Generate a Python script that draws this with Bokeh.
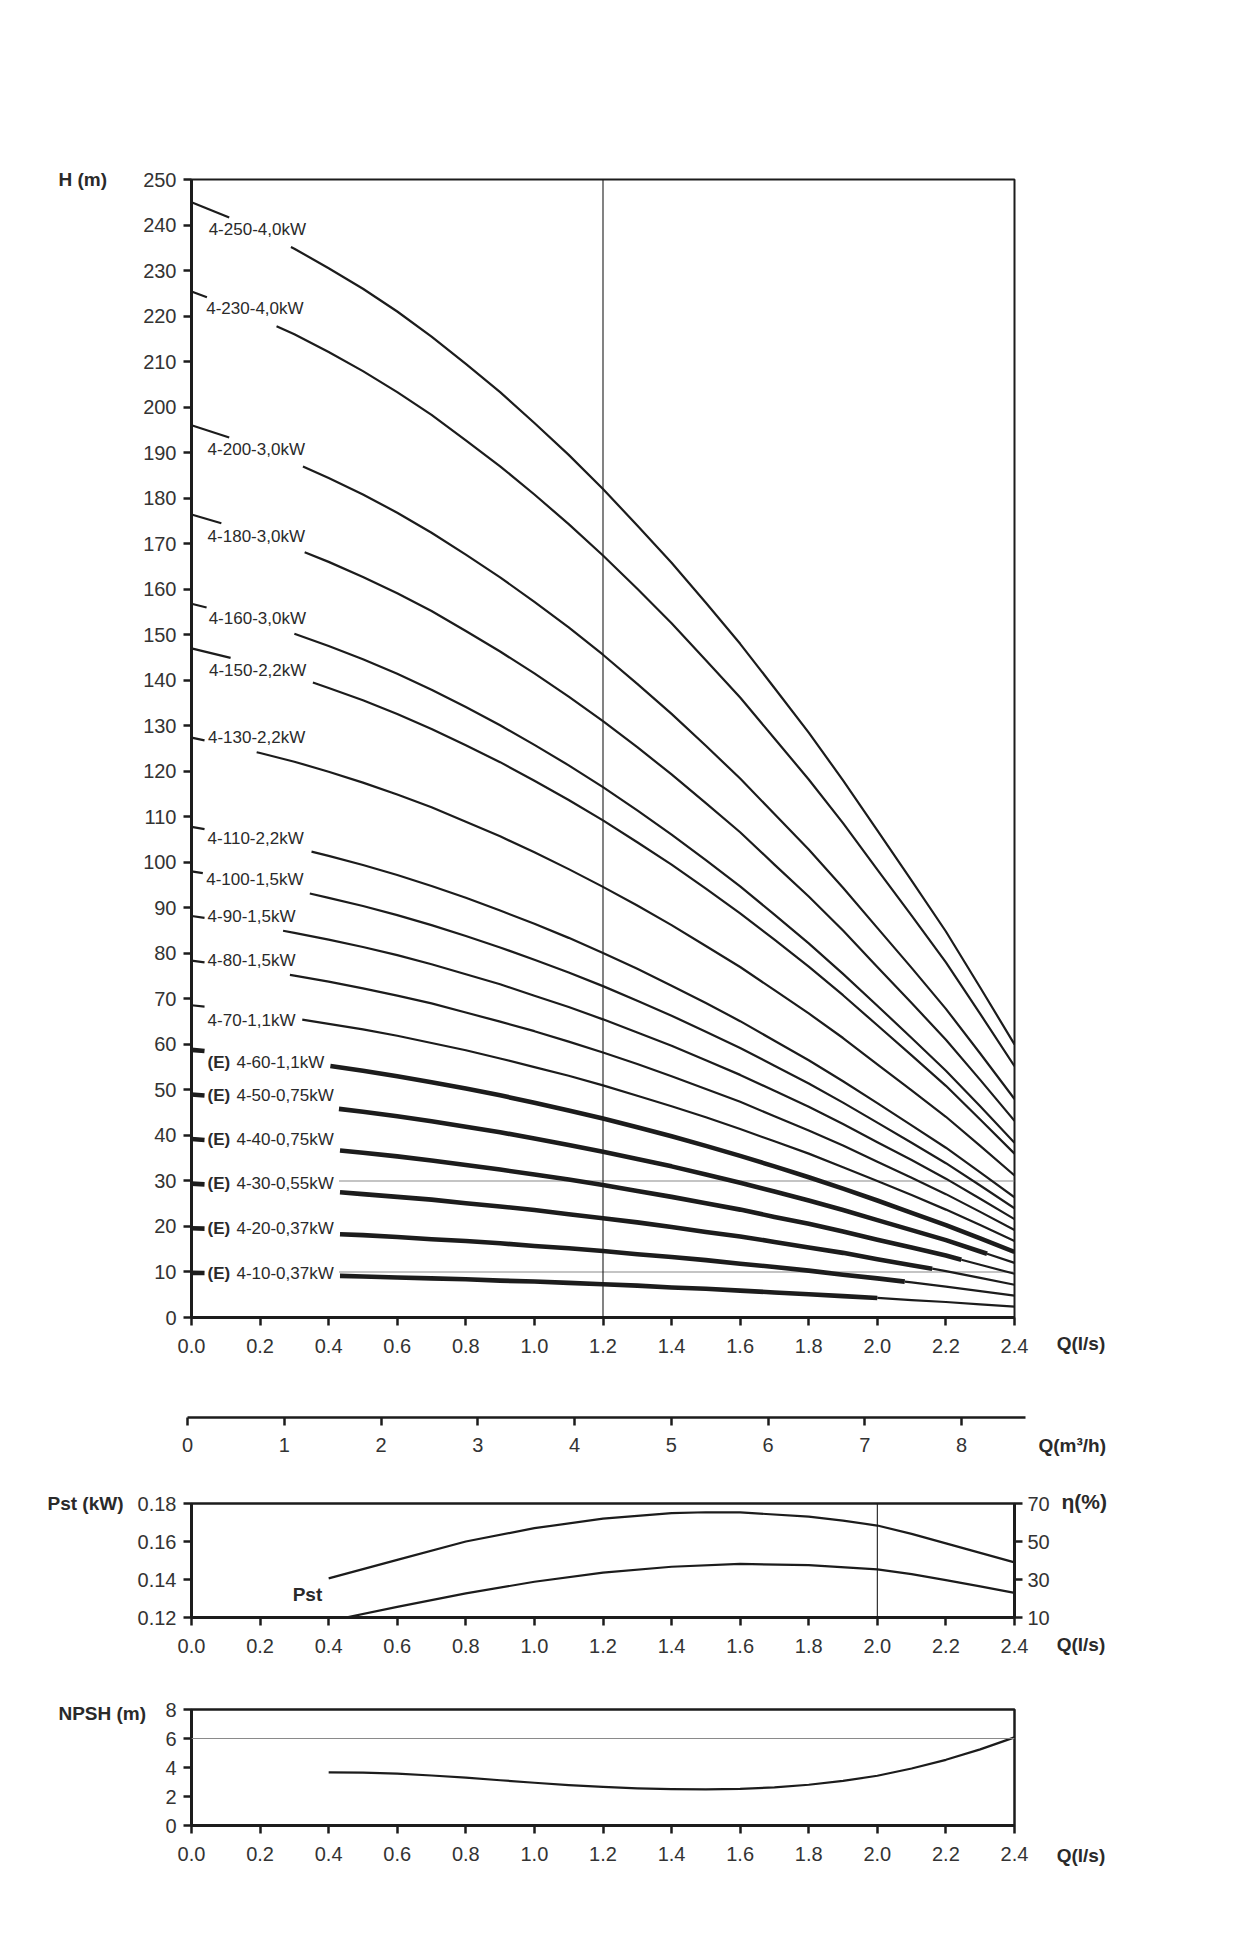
import numpy as np
from bokeh.plotting import figure
from bokeh.models import Label, FixedTicker, PrintfTickFormatter, Range1d, LinearAxis, Span
from bokeh.layouts import column, row
from bokeh.embed import file_html
from bokeh.resources import INLINE

# ---------------------------------------------------------------- data
Q_LS = [0.0, 0.1, 0.2, 0.3, 0.4, 0.5, 0.6, 0.7, 0.8, 0.9, 1.0, 1.1, 1.2,
        1.3, 1.4, 1.5, 1.6, 1.7, 1.8, 1.9, 2.0, 2.1, 2.2, 2.3, 2.4]

H_250 = [245.0, 242.0, 238.5, 234.8, 230.5, 226.0, 221.0, 215.5, 209.5, 203.3, 196.5, 189.5, 182.0,
         174.0, 165.8, 157.0, 148.0, 138.3, 128.5, 118.0, 107.0, 96.0, 84.8, 72.5, 60.0]
H_230 = [225.4, 222.6, 219.4, 216.0, 212.1, 207.9, 203.3, 198.3, 192.7, 187.0, 180.8, 174.3, 167.4,
         160.1, 152.5, 144.4, 136.2, 127.2, 118.2, 108.6, 98.4, 88.3, 78.0, 66.7, 55.2]
H_200 = [196.0, 193.6, 190.8, 187.8, 184.4, 180.8, 176.8, 172.4, 167.6, 162.6, 157.2, 151.6, 145.6,
         139.2, 132.6, 125.6, 118.4, 110.6, 102.8, 94.4, 85.6, 76.8, 67.8, 58.0, 48.0]
H_180 = [176.4, 174.2, 171.7, 169.0, 166.0, 162.7, 159.1, 155.2, 150.8, 146.3, 141.5, 136.4, 131.0,
         125.3, 119.3, 113.0, 106.6, 99.5, 92.5, 85.0, 77.0, 69.1, 61.0, 52.2, 43.2]
H_160 = [156.8, 154.9, 152.6, 150.2, 147.5, 144.6, 141.4, 137.9, 134.1, 130.1, 125.8, 121.3, 116.5,
         111.4, 106.1, 100.5, 94.7, 88.5, 82.2, 75.5, 68.5, 61.4, 54.2, 46.4, 38.4]
H_150 = [147.0, 145.2, 143.1, 140.9, 138.3, 135.6, 132.6, 129.3, 125.7, 122.0, 117.9, 113.7, 109.2,
         104.4, 99.5, 94.2, 88.8, 83.0, 77.1, 70.8, 64.2, 57.6, 50.9, 43.5, 36.0]
H_130 = [127.4, 125.8, 124.0, 122.1, 119.9, 117.5, 114.9, 112.1, 108.9, 105.7, 102.2, 98.5, 94.6,
         90.5, 86.2, 81.6, 77.0, 71.9, 66.8, 61.4, 55.6, 49.9, 44.1, 37.7, 31.2]
H_110 = [107.8, 106.5, 104.9, 103.3, 101.4, 99.4, 97.2, 94.8, 92.2, 89.4, 86.5, 83.4, 80.1,
         76.6, 72.9, 69.1, 65.1, 60.8, 56.5, 51.9, 47.1, 42.2, 37.3, 31.9, 26.4]
H_100 = [98.0, 96.8, 95.4, 93.9, 92.2, 90.4, 88.4, 86.2, 83.8, 81.3, 78.6, 75.8, 72.8,
         69.6, 66.3, 62.8, 59.2, 55.3, 51.4, 47.2, 42.8, 38.4, 33.9, 29.0, 24.0]
H_90 = [88.2, 87.1, 85.9, 84.5, 83.0, 81.4, 79.6, 77.6, 75.4, 73.2, 70.7, 68.2, 65.5,
        62.6, 59.7, 56.5, 53.3, 49.8, 46.3, 42.5, 38.5, 34.6, 30.5, 26.1, 21.6]
H_80 = [78.4, 77.4, 76.3, 75.1, 73.8, 72.3, 70.7, 69.0, 67.0, 65.0, 62.9, 60.6, 58.2,
        55.7, 53.0, 50.2, 47.4, 44.2, 41.1, 37.8, 34.2, 30.7, 27.1, 23.2, 19.2]
H_70 = [68.6, 67.8, 66.8, 65.7, 64.5, 63.3, 61.9, 60.3, 58.7, 56.9, 55.0, 53.1, 51.0,
        48.7, 46.4, 44.0, 41.4, 38.7, 36.0, 33.0, 30.0, 26.9, 23.7, 20.3, 16.8]
H_60 = [58.8, 58.1, 57.2, 56.3, 55.3, 54.2, 53.0, 51.7, 50.3, 48.8, 47.2, 45.5, 43.7,
        41.8, 39.8, 37.7, 35.5, 33.2, 30.8, 28.3, 25.7, 23.0, 20.3, 17.4, 14.4]
H_50 = [49.0, 48.4, 47.7, 47.0, 46.1, 45.2, 44.2, 43.1, 41.9, 40.7, 39.3, 37.9, 36.4,
        34.8, 33.2, 31.4, 29.6, 27.7, 25.7, 23.6, 21.4, 19.2, 17.0, 14.5, 12.0]
H_40 = [39.2, 38.7, 38.2, 37.6, 36.9, 36.2, 35.4, 34.5, 33.5, 32.5, 31.4, 30.3, 29.1,
        27.8, 26.5, 25.1, 23.7, 22.1, 20.6, 18.9, 17.1, 15.4, 13.6, 11.6, 9.6]
H_30 = [29.4, 29.0, 28.6, 28.2, 27.7, 27.1, 26.5, 25.9, 25.1, 24.4, 23.6, 22.7, 21.8,
        20.9, 19.9, 18.8, 17.8, 16.6, 15.4, 14.2, 12.8, 11.5, 10.2, 8.7, 7.2]
H_20 = [19.6, 19.4, 19.1, 18.8, 18.4, 18.1, 17.7, 17.2, 16.8, 16.3, 15.7, 15.2, 14.6,
        13.9, 13.3, 12.6, 11.8, 11.1, 10.3, 9.4, 8.6, 7.7, 6.8, 5.8, 4.8]
H_10 = [9.8, 9.7, 9.5, 9.4, 9.2, 9.0, 8.8, 8.6, 8.4, 8.1, 7.9, 7.6, 7.3,
        7.0, 6.6, 6.3, 5.9, 5.5, 5.1, 4.7, 4.3, 3.8, 3.4, 2.9, 2.4]

MODEL_NAMES = ["4-250-4,0kW", "4-230-4,0kW", "4-200-3,0kW", "4-180-3,0kW", "4-160-3,0kW",
               "4-150-2,2kW", "4-130-2,2kW", "4-110-2,2kW", "4-100-1,5kW", "4-90-1,5kW",
               "4-80-1,5kW", "4-70-1,1kW", "4-60-1,1kW", "4-50-0,75kW", "4-40-0,75kW",
               "4-30-0,55kW", "4-20-0,37kW", "4-10-0,37kW"]
MODEL_E = [False] * 12 + [True] * 6
HEADS = [H_250, H_230, H_200, H_180, H_160, H_150, H_130, H_110, H_100, H_90,
         H_80, H_70, H_60, H_50, H_40, H_30, H_20, H_10]

PST_Q = [0.45, 0.6, 0.8, 1.0, 1.2, 1.4, 1.6, 1.8, 2.0, 2.1, 2.2, 2.3, 2.4]
PST_KW = [0.1200, 0.1256, 0.1327, 0.1388, 0.1436, 0.1467, 0.1482, 0.1476, 0.1453,
          0.1428, 0.1397, 0.1364, 0.1330]
ETA_Q = [0.4, 0.6, 0.8, 1.0, 1.2, 1.4, 1.5, 1.6, 1.8, 1.9, 2.0, 2.1, 2.2, 2.3, 2.4]
ETA_PCT = [30.6, 40.3, 50.0, 57.0, 62.0, 64.9, 65.4, 65.3, 63.1, 61.0, 58.4, 54.0, 49.0, 44.0, 39.0]
NPSH_Q = [0.4, 0.5, 0.6, 0.7, 0.8, 0.9, 1.0, 1.1, 1.2, 1.3, 1.4, 1.5, 1.6, 1.7, 1.8,
          1.9, 2.0, 2.1, 2.2, 2.3, 2.4]
NPSH_M = [3.66, 3.64, 3.58, 3.45, 3.30, 3.12, 2.95, 2.79, 2.66, 2.56, 2.51, 2.49, 2.52, 2.63, 2.81,
          3.08, 3.43, 3.93, 4.53, 5.25, 6.08]

Q_TICKS = [0.0, 0.2, 0.4, 0.6, 0.8, 1.0, 1.2, 1.4, 1.6, 1.8, 2.0, 2.2, 2.4]
H_TICKS = [0, 10, 20, 30, 40, 50, 60, 70, 80, 90, 100, 110, 120, 130, 140, 150, 160,
           170, 180, 190, 200, 210, 220, 230, 240, 250]
M3H_TICKS = [0, 1, 2, 3, 4, 5, 6, 7, 8]
PST_TICKS = [0.12, 0.14, 0.16, 0.18]
ETA_TICKS = [10, 30, 50, 70]
NPSH_TICKS = [0, 2, 4, 6, 8]

# ---------------------------------------------------------------- layout / style
FONT = "Liberation Sans"
INK = "#1c1c1c"
TXT = "#2a2a2a"
THIN = 2.2
THICK = 4.6
TICK_FONT = "20px"
TITLE_FONT = "19px"

LABEL_XY = [(0.050, 239.0), (0.043, 221.6), (0.047, 190.6), (0.047, 171.6), (0.050, 153.6),
            (0.051, 142.2), (0.048, 127.4), (0.047, 105.3), (0.043, 96.3), (0.047, 88.1),
            (0.047, 78.5), (0.047, 65.2), (0.047, 56.0), (0.047, 48.8), (0.047, 39.2),
            (0.047, 29.4), (0.047, 19.6), (0.047, 9.6)]
STUB_END = [0.11, 0.045, 0.11, 0.087, 0.044, 0.114, 0.038, 0.038, 0.033, 0.038,
            0.038, 0.038, 0.038, 0.038, 0.038, 0.038, 0.038, 0.038]
MAIN_START = [0.29, 0.248, 0.325, 0.33, 0.30, 0.354, 0.19, 0.35, 0.345, 0.267,
              0.287, 0.323, 0.405, 0.43, 0.433, 0.433, 0.433, 0.433]
THICK_END = [None] * 12 + [2.40, 2.32, 2.245, 2.16, 2.08, 2.0]
E_TEXT_X = 0.131
GRID_H_START = 0.43

# page geometry (px): frames of each panel and the rows that hold them
MAIN_FRAME = (191, 1014, 179, 1317)     # left, right, top, bottom
M3_FRAME = (187, 1025, 1397, 1417)
PST_FRAME = (191, 1014, 1503, 1617)
NPSH_FRAME = (191, 1014, 1709, 1825)
MAIN_ROW = (0, 1379)
M3_ROW = (1379, 1467)
PST_ROW = (1467, 1672)
NPSH_ROW = (1672, 1880)


def style_axis(ax, ticks, fmt, standoff):
    ax.ticker = FixedTicker(ticks=ticks)
    ax.formatter = PrintfTickFormatter(format=fmt)
    ax.axis_line_width = 3
    ax.axis_line_color = INK
    ax.major_tick_line_width = 2.5
    ax.major_tick_line_color = INK
    ax.major_tick_out = 8
    ax.major_tick_in = 0
    ax.minor_tick_line_color = None
    ax.major_label_text_font = FONT
    ax.major_label_text_font_size = TICK_FONT
    ax.major_label_text_color = "#333333"
    ax.major_label_standoff = standoff


def panel_fig(x0, x1, frame, rowspan, xr, yr):
    fl, fr, ft, fb = frame
    p = figure(width=x1 - x0, height=rowspan[1] - rowspan[0],
               x_range=Range1d(*xr), y_range=Range1d(*yr),
               output_backend="svg", toolbar_location=None, frame_align=False,
               min_border_left=fl - x0, min_border_right=x1 - fr,
               min_border_top=ft - rowspan[0], min_border_bottom=rowspan[1] - fb)
    p.xgrid.visible = False
    p.ygrid.visible = False
    p.outline_line_color = INK
    p.outline_line_width = 2
    p.background_fill_color = "white"
    p.border_fill_color = "white"
    return p


def side_fig(x0, x1, frame, rowspan, xr, yr):
    """Text-only figure beside a panel, sharing that panel's data coordinates."""
    fl, fr, ft, fb = frame
    kx = (xr[1] - xr[0]) / (fr - fl)
    ky = (yr[1] - yr[0]) / (fb - ft)
    sx = (xr[0] + (x0 - fl) * kx, xr[0] + (x1 - fl) * kx)
    sy = (yr[0] + (fb - rowspan[1]) * ky, yr[0] + (fb - rowspan[0]) * ky)
    p = figure(width=x1 - x0, height=rowspan[1] - rowspan[0],
               x_range=Range1d(*sx), y_range=Range1d(*sy),
               output_backend="svg", toolbar_location=None, frame_align=False,
               x_axis_location=None, y_axis_location=None,
               min_border_left=0, min_border_right=0, min_border_top=0, min_border_bottom=0)
    p.grid.visible = False
    p.outline_line_color = None
    p.background_fill_color = "white"
    p.border_fill_color = "white"
    return p


def add_text(p, x, y, text, size="17px", bold=False, align="left"):
    p.add_layout(Label(x=x, y=y, text=text, text_font=FONT, text_font_size=size,
                       text_font_style="bold" if bold else "normal", text_color=TXT,
                       text_align=align, text_baseline="middle"))


def h_at(h, q):
    return float(np.interp(q, Q_LS, h))


# ---------------------------------------------------------------- main H-Q chart
XR = (0, 2.4)
main = panel_fig(118, 1044, MAIN_FRAME, MAIN_ROW, XR, (0, 250))
style_axis(main.xaxis[0], Q_TICKS, "%.1f", 13)
style_axis(main.yaxis[0], H_TICKS, "%d", 7)

main.add_layout(Span(location=1.2, dimension="height", line_color=INK, line_width=1.1))
main.segment(x0=[GRID_H_START, GRID_H_START], y0=[30, 10], x1=[2.4, 2.4], y1=[30, 10],
             line_color="#8a8a8a", line_width=1.1)

for i, h in enumerate(HEADS):
    e = MODEL_E[i]
    se = STUB_END[i]
    main.line([0.0, se], [h[0], h_at(h, se)], line_color=INK, line_width=THICK if e else THIN)
    ms = MAIN_START[i]
    qs = [ms] + [q for q in Q_LS if q > ms]
    hs = [h_at(h, ms)] + [v for q, v in zip(Q_LS, h) if q > ms]
    te = THICK_END[i]
    if te is None:
        main.line(qs, hs, line_color=INK, line_width=THIN, line_join="round")
    else:
        tq = [q for q in qs if q < te] + [te]
        th = [v for q, v in zip(qs, hs) if q < te] + [h_at(h, te)]
        main.line(tq, th, line_color=INK, line_width=THICK, line_join="round")
        if te < 2.4:
            rq = [te] + [q for q in qs if q > te]
            rh = [h_at(h, te)] + [v for q, v in zip(qs, hs) if q > te]
            main.line(rq, rh, line_color=INK, line_width=THIN, line_join="round")
    lx, ly = LABEL_XY[i]
    if e:
        add_text(main, lx, ly, "(E)", bold=True)
        add_text(main, E_TEXT_X, ly, MODEL_NAMES[i])
    else:
        add_text(main, lx, ly, MODEL_NAMES[i])

main_l = side_fig(0, 118, MAIN_FRAME, MAIN_ROW, XR, (0, 250))
add_text(main_l, -0.388, 250, "H (m)", size=TITLE_FONT, bold=True)
main_r = side_fig(1044, 1234, MAIN_FRAME, MAIN_ROW, XR, (0, 250))
add_text(main_r, 2.523, -5.8, "Q(l/s)", size=TITLE_FONT, bold=True)

# ---------------------------------------------------------------- m3/h scale
M3R = (0, 8.66)
m3 = panel_fig(0, 1036, M3_FRAME, M3_ROW, M3R, (0, 1))
m3.outline_line_color = None
m3.yaxis.visible = False
style_axis(m3.xaxis[0], M3H_TICKS, "%d", 12)
m3.xaxis[0].axis_line_width = 2.5
m3_r = side_fig(1036, 1234, M3_FRAME, M3_ROW, M3R, (0, 1))
add_text(m3_r, 8.794, -1.4, "Q(m³/h)", size=TITLE_FONT, bold=True)

# ---------------------------------------------------------------- Pst / eta panel
PR = (0.12, 0.18)
pst = panel_fig(128, 1052, PST_FRAME, PST_ROW, XR, PR)
pst.outline_line_width = 2.5
style_axis(pst.xaxis[0], Q_TICKS, "%.1f", 13)
style_axis(pst.yaxis[0], PST_TICKS, "%.2f", 7)
pst.extra_y_ranges = {"eta": Range1d(10, 70)}
eta_ax = LinearAxis(y_range_name="eta")
style_axis(eta_ax, ETA_TICKS, "%d", 5)
pst.add_layout(eta_ax, "right")
pst.add_layout(Span(location=2.0, dimension="height", line_color=INK, line_width=1.1))
pst.line(PST_Q, PST_KW, line_color=INK, line_width=THIN, line_join="round")
pst.line(ETA_Q, ETA_PCT, y_range_name="eta", line_color=INK, line_width=THIN, line_join="round")
add_text(pst, 0.295, 0.1321, "Pst", size=TITLE_FONT, bold=True)
pst_l = side_fig(0, 128, PST_FRAME, PST_ROW, XR, PR)
add_text(pst_l, -0.42, 0.18, "Pst (kW)", size=TITLE_FONT, bold=True)
pst_r = side_fig(1052, 1234, PST_FRAME, PST_ROW, XR, PR)
add_text(pst_r, 2.537, 0.181, "η(%)", size="21px", bold=True)
add_text(pst_r, 2.523, 0.1058, "Q(l/s)", size=TITLE_FONT, bold=True)

# ---------------------------------------------------------------- NPSH panel
NR = (0, 8)
npsh = panel_fig(152, 1052, NPSH_FRAME, NPSH_ROW, XR, NR)
npsh.outline_line_width = 2.5
style_axis(npsh.xaxis[0], Q_TICKS, "%.1f", 13)
style_axis(npsh.yaxis[0], NPSH_TICKS, "%d", 7)
npsh.add_layout(Span(location=6, dimension="width", line_color="#8a8a8a", line_width=1.1))
npsh.line(NPSH_Q, NPSH_M, line_color=INK, line_width=THIN, line_join="round")
npsh_l = side_fig(0, 152, NPSH_FRAME, NPSH_ROW, XR, NR)
add_text(npsh_l, -0.388, 7.72, "NPSH (m)", size=TITLE_FONT, bold=True)
npsh_r = side_fig(1052, 1234, NPSH_FRAME, NPSH_ROW, XR, NR)
add_text(npsh_r, 2.523, -2.07, "Q(l/s)", size=TITLE_FONT, bold=True)

layout = column(
    row(main_l, main, main_r, spacing=0),
    row(m3, m3_r, spacing=0),
    row(pst_l, pst, pst_r, spacing=0),
    row(npsh_l, npsh, npsh_r, spacing=0),
    spacing=0,
)
open("out.html", "w").write(file_html(layout, INLINE))
